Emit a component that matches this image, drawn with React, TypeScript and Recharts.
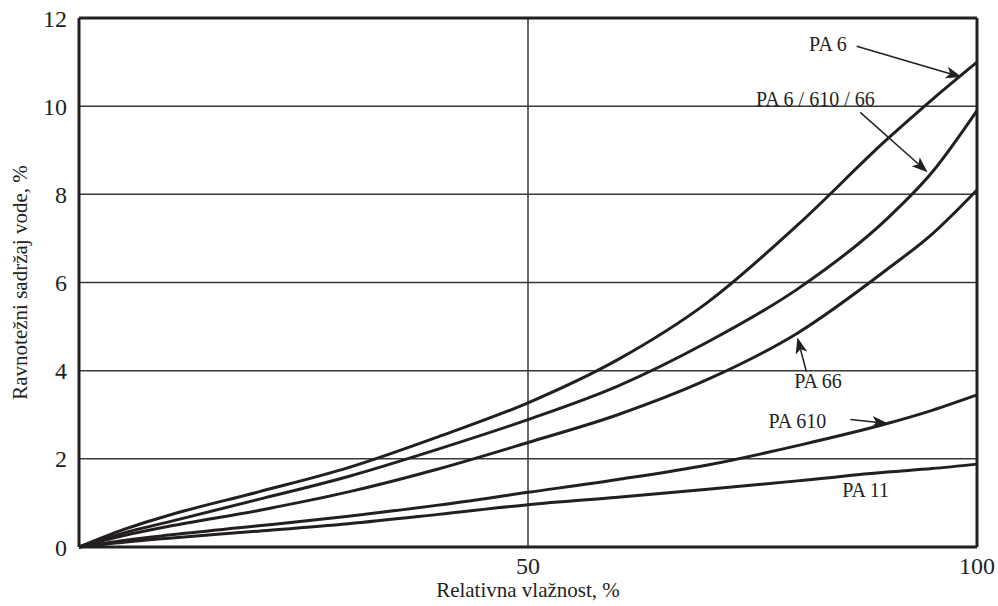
import React from "react";
import { LineChart, Line, XAxis, YAxis, CartesianGrid, ReferenceLine, ReferenceDot } from "recharts";

if (typeof document !== "undefined") document.body.style.margin = "0";

const humidity = [0, 5, 10, 20, 30, 40, 50, 60, 70, 80, 90, 95, 100];
const pa6 = [0, 0.4, 0.72, 1.25, 1.8, 2.5, 3.27, 4.25, 5.55, 7.3, 9.25, 10.15, 11.0];
const pa6_610_66 = [0, 0.32, 0.57, 1.08, 1.6, 2.22, 2.89, 3.65, 4.65, 5.85, 7.45, 8.5, 9.9];
const pa66 = [0, 0.26, 0.47, 0.83, 1.25, 1.77, 2.37, 3.0, 3.8, 4.85, 6.3, 7.1, 8.1];
const pa610 = [0, 0.15, 0.27, 0.48, 0.7, 0.95, 1.24, 1.53, 1.86, 2.3, 2.8, 3.1, 3.45];
const pa11 = [0, 0.11, 0.2, 0.36, 0.53, 0.74, 0.96, 1.13, 1.31, 1.5, 1.7, 1.78, 1.88];

const xTicks = [50, 100];
const yTicks = [0, 2, 4, 6, 8, 10, 12];

// label text with its position in data units
const labels = [
  { text: "PA 6", x: 83.4, y: 11.4 },
  { text: "PA 6 / 610 / 66", x: 82, y: 10.16 },
  { text: "PA 66", x: 82.3, y: 3.77 },
  { text: "PA 610", x: 80, y: 2.86 },
  { text: "PA 11", x: 87.6, y: 1.3 },
];

// arrows: from -> tip, in data units
const arrows = [
  { x1: 86.6, y1: 11.36, x2: 98.3, y2: 10.66 },
  { x1: 87, y1: 9.86, x2: 94.5, y2: 8.5 },
  { x1: 81, y1: 3.98, x2: 80, y2: 4.75 },
  { x1: 85.9, y1: 2.89, x2: 90.1, y2: 2.8 },
];

const data = humidity.map((h, i) => ({
  h,
  pa6: pa6[i],
  mix: pa6_610_66[i],
  pa66: pa66[i],
  pa610: pa610[i],
  pa11: pa11[i],
}));

const FONT = "'Liberation Serif', 'Times New Roman', serif";
const INK = "#231f20";

const Arrow = (props: any) => {
  const { x1, y1, x2, y2 } = props;
  const dx = x2 - x1;
  const dy = y2 - y1;
  const len = Math.sqrt(dx * dx + dy * dy) || 1;
  const ux = dx / len;
  const uy = dy / len;
  const hl = 16;
  const hw = 6;
  const bx = x2 - ux * hl;
  const by = y2 - uy * hl;
  const pts = `${x2},${y2} ${bx - uy * hw},${by + ux * hw} ${bx + ux * 4},${by + uy * 4} ${bx + uy * hw},${by - ux * hw}`;
  return (
    <g>
      <line x1={x1} y1={y1} x2={bx + ux * 4} y2={by + uy * 4} stroke={INK} strokeWidth={1.5} />
      <polygon points={pts} fill={INK} />
    </g>
  );
};

const series = [
  { key: "pa6", name: "PA 6" },
  { key: "mix", name: "PA 6 / 610 / 66" },
  { key: "pa66", name: "PA 66" },
  { key: "pa610", name: "PA 610" },
  { key: "pa11", name: "PA 11" },
];

export default function App() {
  return (
    <div style={{ width: 998, height: 606, background: "#fff" }}>
      <LineChart width={998} height={606} data={data} margin={{ top: 18, right: 21, bottom: 0, left: 0 }}>
        <CartesianGrid horizontal vertical stroke="#3a3536" strokeWidth={1.5} horizontalValues={[2, 4, 6, 8, 10]} verticalValues={[50]} />
        <XAxis
          dataKey="h"
          type="number"
          domain={[0, 100]}
          ticks={xTicks}
          height={59}
          axisLine={{ stroke: INK, strokeWidth: 3 }}
          tickLine={false}
          tick={{ fill: INK, fontSize: 24, fontFamily: FONT }}
          tickMargin={4}
          label={{ value: "Relativna vlažnost, %", position: "insideBottom", offset: 9, fill: INK, fontSize: 21, fontFamily: FONT }}
        />
        <YAxis
          type="number"
          domain={[0, 12]}
          ticks={yTicks}
          width={79}
          axisLine={{ stroke: INK, strokeWidth: 3 }}
          tickLine={false}
          tick={{ fill: INK, fontSize: 24, fontFamily: FONT }}
          tickMargin={6}
          label={{ value: "Ravnotežni sadržaj vode, %", angle: -90, position: "insideLeft", offset: 20, fill: INK, fontSize: 21, fontFamily: FONT, style: { textAnchor: "middle" } }}
        />
        <ReferenceLine y={12} stroke={INK} strokeWidth={3} />
        <ReferenceLine x={100} stroke={INK} strokeWidth={3} />
        {series.map((s) => (
          <Line key={s.key} type="monotone" dataKey={s.key} name={s.name} stroke={INK} strokeWidth={3} dot={false} isAnimationActive={false} />
        ))}
        {arrows.map((a, i) => (
          <ReferenceLine
            key={"a" + i}
            segment={[{ x: a.x1, y: a.y1 }, { x: a.x2, y: a.y2 }]}
            shape={Arrow}
            ifOverflow="visible"
          />
        ))}
        {labels.map((l) => (
          <ReferenceDot
            key={l.text}
            x={l.x}
            y={l.y}
            ifOverflow="visible"
            shape={(p: any) => (
              <text x={p.cx} y={p.cy} textAnchor="middle" dominantBaseline="central" fill={INK} fontSize={20} fontFamily={FONT}>
                {l.text}
              </text>
            )}
          />
        ))}
      </LineChart>
    </div>
  );
}
